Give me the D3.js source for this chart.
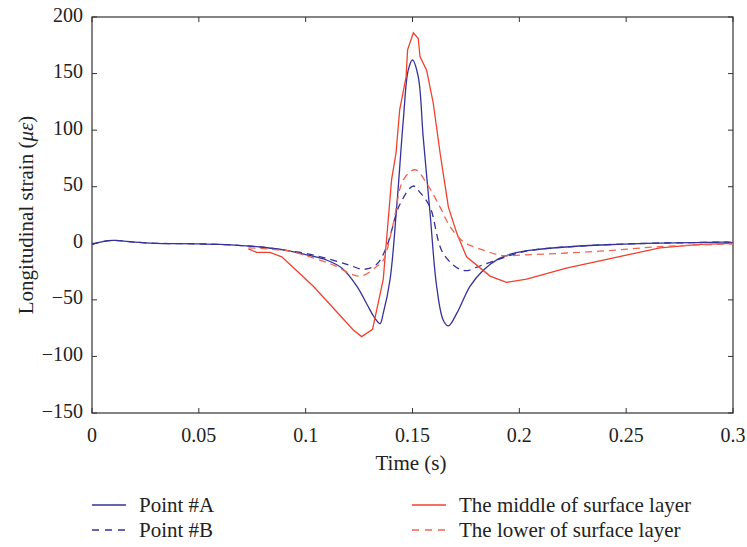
<!DOCTYPE html>
<html><head><meta charset="utf-8">
<script src="https://cdn.jsdelivr.net/npm/d3@7"></script>
<style>body{margin:0;background:#fff}svg{display:block}text{font-family:"Liberation Serif","DejaVu Serif",serif;fill:#222}</style>
</head><body><svg id="c" width="747" height="547"></svg>
<script>
const xTicks=[0,0.05,0.1,0.15,0.2,0.25,0.3];
const yTicks=[-150,-100,-50,0,50,100,150,200];
const seriesNames=["Point #A","Point #B","The middle of surface layer","The lower of surface layer"];
const pointA=[[0,-1],[0.005,1.5],[0.01,2.5],[0.015,2],[0.02,1],[0.03,0],[0.04,-0.3],[0.05,-0.5],[0.06,-1],[0.07,-2],[0.08,-3.5],[0.09,-6],[0.1,-10],[0.11,-15],[0.117,-22],[0.124,-38],[0.129,-55],[0.132,-65],[0.1348,-71],[0.1363,-62],[0.1395,-32],[0.1426,32],[0.1457,109],[0.148,153],[0.150,162],[0.1527,147],[0.155,94],[0.1582,27],[0.1613,-38],[0.1644,-68],[0.1668,-73],[0.1707,-62],[0.1769,-38],[0.183,-24],[0.19,-14],[0.197,-9],[0.206,-6],[0.22,-3.5],[0.238,-1.5],[0.26,0],[0.28,0.5],[0.297,1],[0.3,0.5]];
const pointB=[[0,-1],[0.005,1.5],[0.01,2.5],[0.015,2],[0.02,1],[0.03,0],[0.04,-0.3],[0.05,-0.5],[0.06,-1],[0.07,-2],[0.08,-3.5],[0.09,-6],[0.1,-9],[0.111,-14],[0.12,-19],[0.127,-23],[0.133,-19],[0.1379,-3],[0.144,34],[0.1503,50.6],[0.1535,45],[0.1582,32],[0.1644,-9],[0.1738,-24],[0.183,-19],[0.197,-10],[0.206,-6],[0.22,-3.5],[0.238,-1.5],[0.26,0],[0.28,0.5],[0.297,1],[0.3,0.5]];
const middleLayer=[[0.0732,-5],[0.077,-8],[0.0833,-8],[0.0888,-12],[0.1036,-38],[0.1223,-76.6],[0.1262,-82.5],[0.1313,-76],[0.1363,-32],[0.1402,56],[0.1423,80],[0.144,118],[0.147,147],[0.1477,171],[0.1504,186],[0.1527,181],[0.1535,165],[0.1566,153],[0.1597,124],[0.1629,80],[0.1668,32],[0.1707,9],[0.1753,-12],[0.1863,-29],[0.194,-34.5],[0.2034,-31.6],[0.222,-22],[0.2658,-4],[0.2846,-1],[0.3,0]];
const lowerLayer=[[0.0732,-4],[0.0786,-4.5],[0.088,-6],[0.0927,-7],[0.1114,-18],[0.1254,-29],[0.1332,-20.6],[0.1363,-15],[0.141,17.6],[0.1457,56],[0.1512,65],[0.1566,53],[0.1629,32],[0.1676,14.7],[0.1738,1.5],[0.1831,-6],[0.1925,-11],[0.2,-10.5],[0.2377,-7],[0.2658,-3],[0.3,-0.5]];

const svg=d3.select("#c");
const x=d3.scaleLinear().domain([0,0.3]).range([92,733]);
const y=d3.scaleLinear().domain([-150,200]).range([413,17]);
const blue="#36309a", red="#f0402c", redL="#f26450";

const g=svg.append("g");
g.append("rect").attr("x",92).attr("y",17).attr("width",641).attr("height",396).attr("fill","none").attr("stroke","#333").attr("stroke-width",1.2);
const tl=5;
xTicks.forEach(t=>{
  g.append("line").attr("x1",x(t)).attr("x2",x(t)).attr("y1",413).attr("y2",413-tl).attr("stroke","#333");
  g.append("line").attr("x1",x(t)).attr("x2",x(t)).attr("y1",17).attr("y2",17+tl).attr("stroke","#333");
  g.append("text").attr("x",x(t)).attr("y",442).attr("text-anchor","middle").attr("font-size",20).text(d3.format("")(t));
});
yTicks.forEach(t=>{
  g.append("line").attr("y1",y(t)).attr("y2",y(t)).attr("x1",92).attr("x2",92+tl).attr("stroke","#333");
  g.append("line").attr("y1",y(t)).attr("y2",y(t)).attr("x1",733).attr("x2",733-tl).attr("stroke","#333");
  g.append("text").attr("x",83).attr("y",y(t)+4.5).attr("text-anchor","end").attr("font-size",20).text(t<0?"\u2212"+(-t):t);
});
g.append("text").attr("x",411).attr("y",470).attr("text-anchor","middle").attr("font-size",21).text("Time (s)");
const yl=g.append("text").attr("transform","translate(33,215) rotate(-90)").attr("text-anchor","middle").attr("font-size",21);
yl.append("tspan").text("Longitudinal strain (");
yl.append("tspan").attr("font-style","italic").text("\u03BC\u03B5");
yl.append("tspan").text(")");

const smooth=d3.line().x(d=>x(d[0])).y(d=>y(d[1])).curve(d3.curveCatmullRom.alpha(0.5));
const lin=d3.line().x(d=>x(d[0])).y(d=>y(d[1]));
const specs=[
  {data:pointA,gen:smooth,color:blue,dash:null},
  {data:pointB,gen:smooth,color:blue,dash:"7,5"},
  {data:middleLayer,gen:lin,color:red,dash:null},
  {data:lowerLayer,gen:smooth,color:redL,dash:"7,5"}
];
specs.forEach(s=>{
  g.append("path").attr("d",s.gen(s.data)).attr("fill","none").attr("stroke",s.color).attr("stroke-width",1.3).attr("stroke-dasharray",s.dash);
});
const legPos=[[92,505],[92,530],[412,505],[412,530]];
specs.forEach((s,i)=>{
  const [lx,ly]=legPos[i];
  g.append("line").attr("x1",lx).attr("x2",lx+34).attr("y1",ly).attr("y2",ly).attr("stroke",s.color).attr("stroke-width",1.3).attr("stroke-dasharray",s.dash?"7,6":null);
  g.append("text").attr("x",lx+47).attr("y",ly+6.5).attr("font-size",21).text(seriesNames[i]);
});
</script></body></html>
